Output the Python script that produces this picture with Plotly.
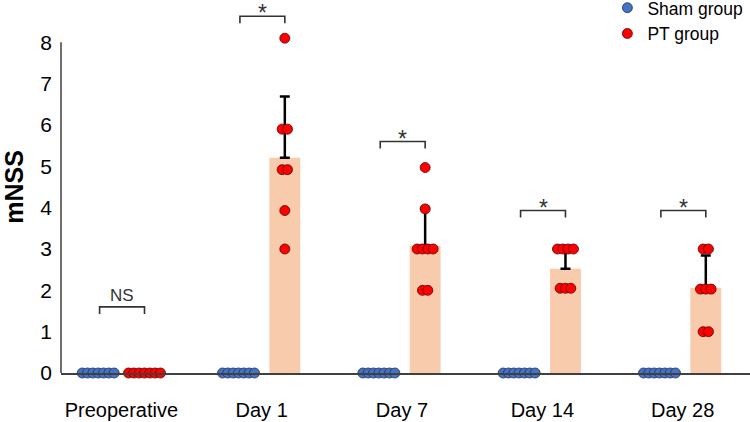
import plotly.graph_objects as go
from collections import Counter

# ---- data ----
categories = ["Preoperative", "Day 1", "Day 7", "Day 14", "Day 28"]
sham_points = [
    [0, 0, 0, 0, 0, 0, 0],
    [0, 0, 0, 0, 0, 0, 0],
    [0, 0, 0, 0, 0, 0, 0],
    [0, 0, 0, 0, 0, 0, 0],
    [0, 0, 0, 0, 0, 0, 0],
]
pt_points = [
    [0, 0, 0, 0, 0, 0, 0],
    [8.1, 5.9, 5.9, 4.92, 4.92, 3.93, 3.0],
    [4.97, 3.97, 3.0, 3.0, 3.0, 3.0, 2.0, 2.0],
    [3.0, 3.0, 3.0, 3.0, 2.05, 2.05, 2.05],
    [3.0, 3.0, 2.03, 2.03, 2.03, 1.0, 1.0],
]
sham_mean = [0, 0, 0, 0, 0]
sham_sd = [0, 0, 0, 0, 0]
pt_mean = [0, 5.21, 3.08, 2.52, 2.06]
pt_sd = [0, 1.48, 0.9, 0.48, 0.78]
sig_labels = ["NS", "*", "*", "*", "*"]
sig_levels = [1.6, 8.63, 5.6, 3.93, 3.93]
y_ticks = [0, 1, 2, 3, 4, 5, 6, 7, 8]

# ---- styling ----
FONT = "Arial, Liberation Sans, sans-serif"
SHAM_COLOR = "#4472C4"
PT_COLOR = "#FF0000"
BAR_COLOR = "#F8CBAD"
AXIS_COLOR = "#404040"
OFF = 0.165
BAR_W = 0.22
STEP = 0.038
Y_TOP = 9.0

idx = list(range(len(categories)))


def swarm(groups, offset):
    xs, ys = [], []
    for i, vals in enumerate(groups):
        counts = Counter(vals)
        seen = Counter()
        for v in vals:
            n = counts[v]
            k = seen[v]
            seen[v] += 1
            xs.append(i + offset + (k - (n - 1) / 2) * STEP)
            ys.append(v)
    return xs, ys


fig = go.Figure()

# PT bars with upward error bars
fig.add_trace(go.Bar(
    x=[i + OFF for i in idx], y=pt_mean, width=BAR_W,
    marker=dict(color=BAR_COLOR, line=dict(width=0)),
    error_y=dict(type="data", array=pt_sd, arrayminus=[0] * len(pt_sd),
                 symmetric=False, color="black", thickness=2.5, width=5),
    showlegend=False, hoverinfo="skip",
))

# zero-height bar outlines (black segments) for groups with mean 0
seg_x, seg_y = [], []
for off, means in ((-OFF, sham_mean), (OFF, pt_mean)):
    for i, m in zip(idx, means):
        if m == 0:
            seg_x += [i + off - 0.145, i + off + 0.145, None]
            seg_y += [m, m, None]
fig.add_trace(go.Scatter(x=seg_x, y=seg_y, mode="lines",
                         line=dict(color="black", width=4),
                         showlegend=False, hoverinfo="skip", cliponaxis=False))

sx, sy = swarm(sham_points, -OFF)
px, py = swarm(pt_points, OFF)
fig.add_trace(go.Scatter(
    x=sx, y=sy, mode="markers", name="Sham group", cliponaxis=False,
    marker=dict(color=SHAM_COLOR, size=10, line=dict(color="#1F2F55", width=0.8)),
))
fig.add_trace(go.Scatter(
    x=px, y=py, mode="markers", name="PT group", cliponaxis=False,
    marker=dict(color=PT_COLOR, size=10, line=dict(color="#5A0000", width=0.8)),
))

# y axis line, only up to the last tick
shapes = [dict(type="line", xref="paper", yref="y", x0=0, x1=0,
               y0=y_ticks[0], y1=y_ticks[-1],
               line=dict(color=AXIS_COLOR, width=1.5))]
annotations = []
for i, lab, lvl in zip(idx, sig_labels, sig_levels):
    x0, x1 = i - OFF + 0.01, i + OFF
    leg = 0.17
    shapes.append(dict(type="path", xref="x", yref="y",
                       path=f"M {x0},{lvl - leg} L {x0},{lvl} L {x1},{lvl} L {x1},{lvl - leg}",
                       line=dict(color="#333333", width=1.6)))
    if lab == "*":
        annotations.append(dict(x=(x0 + x1) / 2, y=lvl, xref="x", yref="y",
                                text=lab, showarrow=False, yanchor="middle",
                                yshift=3, borderpad=0,
                                font=dict(family=FONT, size=23, color="#333333")))
    else:
        annotations.append(dict(x=(x0 + x1) / 2, y=lvl, xref="x", yref="y",
                                text=lab, showarrow=False, yanchor="bottom",
                                yshift=0,
                                font=dict(family=FONT, size=17, color="#333333")))

fig.update_layout(
    width=750, height=422,
    margin=dict(l=61, r=0, t=1, b=49, autoexpand=False),
    plot_bgcolor="white", paper_bgcolor="white",
    barmode="overlay",
    shapes=shapes, annotations=annotations,
    font=dict(family=FONT, color="black"),
    legend=dict(x=0.793, y=1.03, xanchor="left", yanchor="top",
                bgcolor="rgba(0,0,0,0)", font=dict(family=FONT, size=17.5),
                itemsizing="trace", tracegroupgap=0),
    xaxis=dict(range=[-0.43, 4.48], tickmode="array", tickvals=idx,
               ticktext=categories, showgrid=False, zeroline=False,
               showline=True, linecolor=AXIS_COLOR, linewidth=1.5,
               ticks="", tickfont=dict(family=FONT, size=20),
               ticklabelstandoff=18, automargin=False),
    yaxis=dict(range=[0, Y_TOP], tickmode="array", tickvals=y_ticks,
               showgrid=False, zeroline=False, showline=False,
               ticks="", tickfont=dict(family=FONT, size=21), ticklabelstandoff=8,
               automargin=False,
               title=dict(text="<b>mNSS</b>", font=dict(family=FONT, size=25),
                          standoff=26)),
)

fig.write_html("out.html", config={"displayModeBar": False},
               post_script="document.body.style.margin='0';document.body.style.padding='0';")
